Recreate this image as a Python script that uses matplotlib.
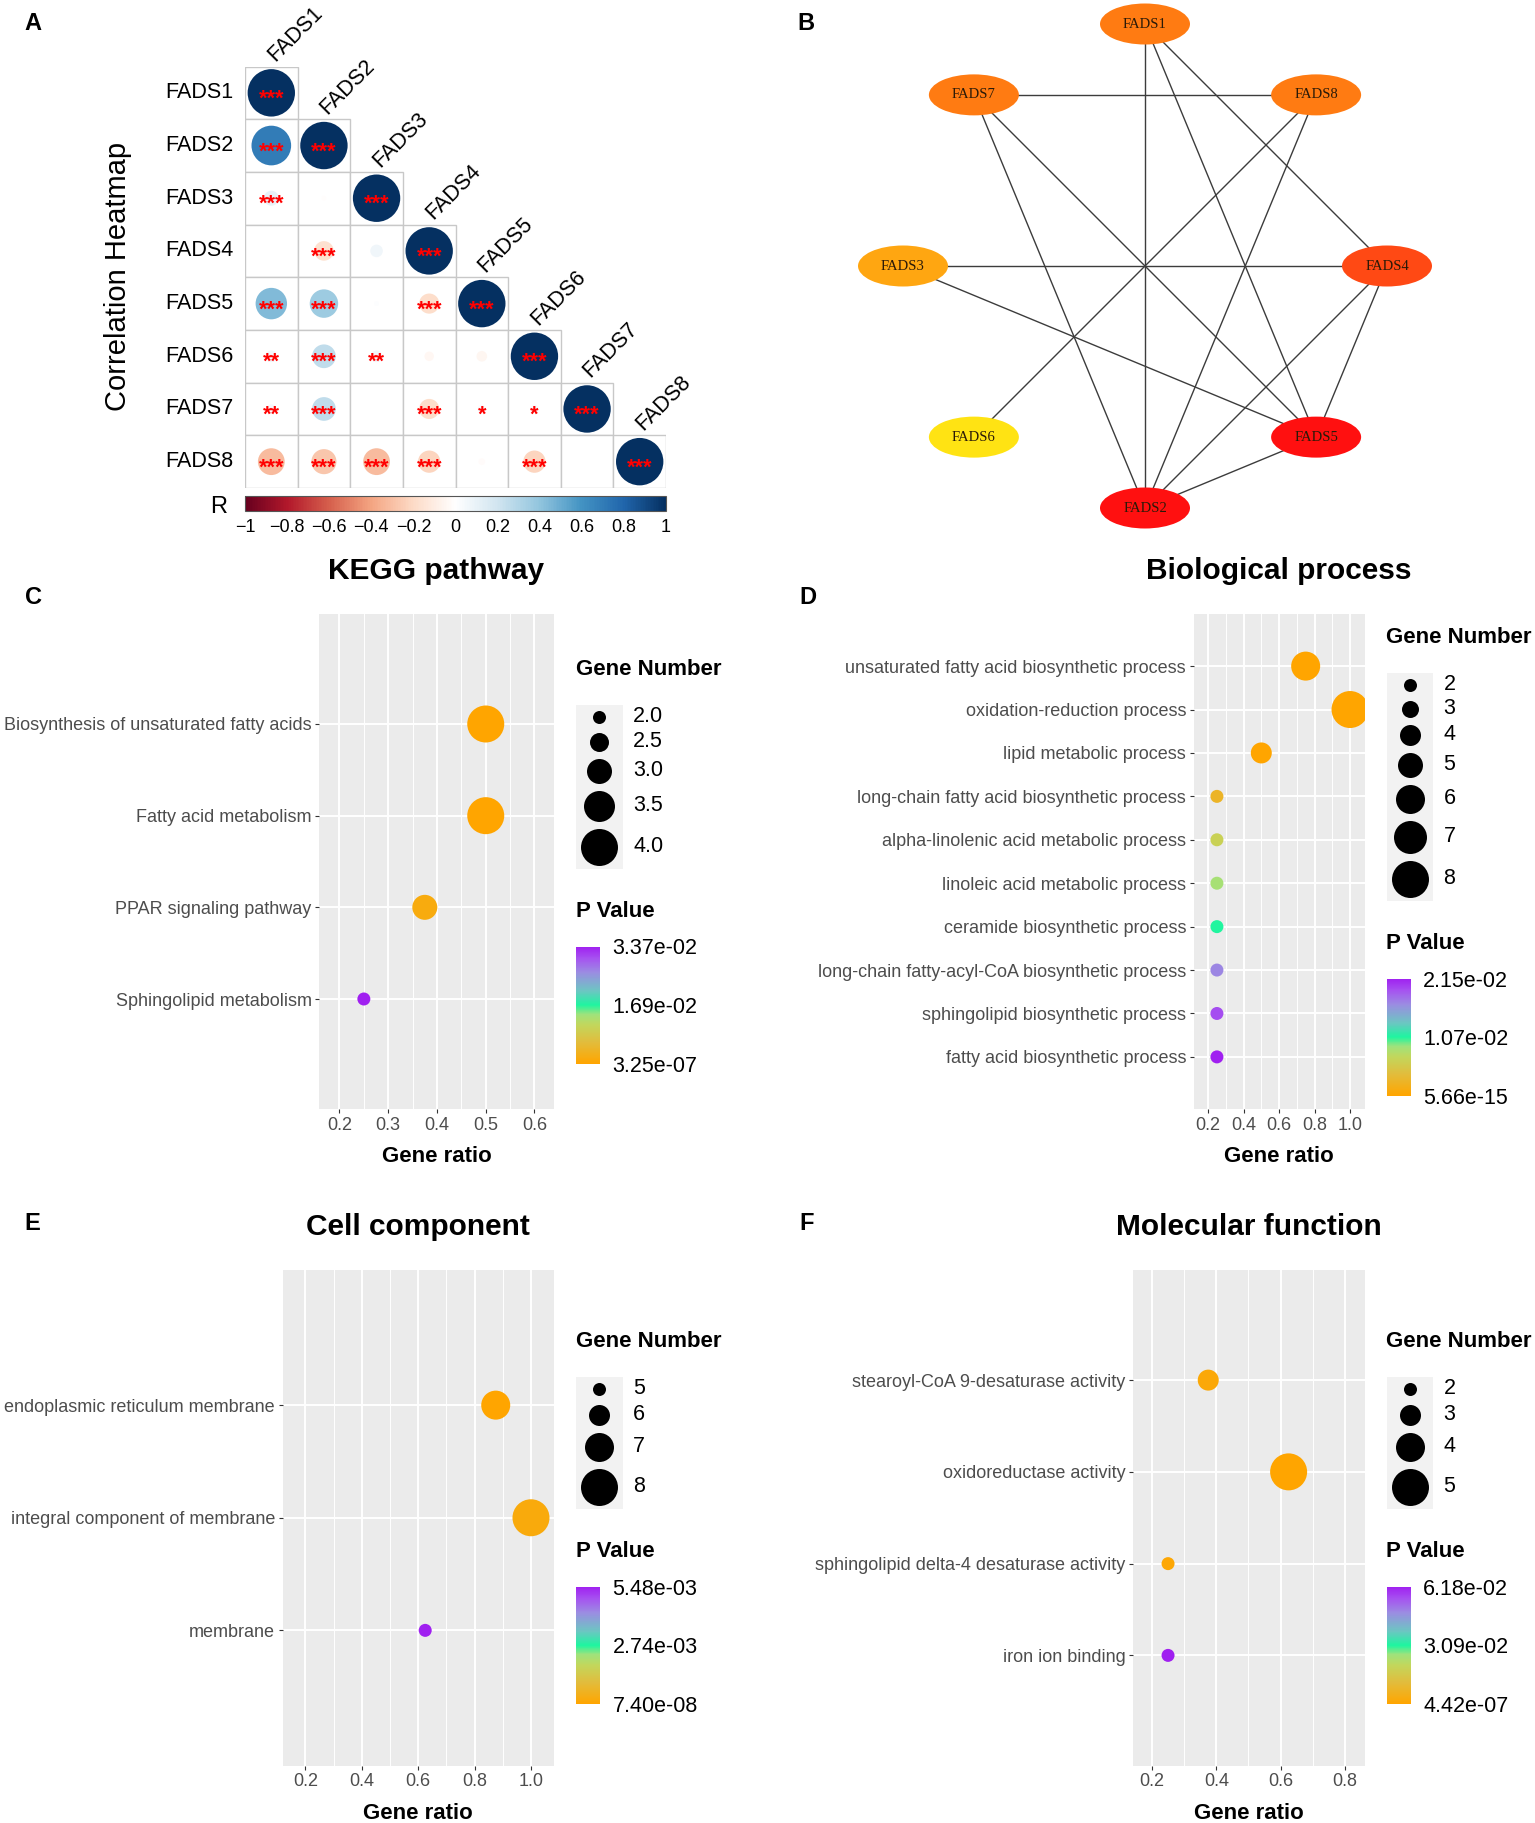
import numpy as np
import matplotlib
matplotlib.use('Agg')
import matplotlib.pyplot as plt
from matplotlib.patches import Circle, Ellipse, Rectangle
from matplotlib.colors import LinearSegmentedColormap, Normalize
from matplotlib.cm import ScalarMappable

plt.rcParams['font.family'] = ['Liberation Sans', 'DejaVu Sans']

W, H = 1535, 1823
DPI = 100

# ---------------- data ----------------
genes = ['FADS1', 'FADS2', 'FADS3', 'FADS4', 'FADS5', 'FADS6', 'FADS7', 'FADS8']
corr_rows = [
    [1.0],
    [0.70, 1.0],
    [0.10, -0.01, 1.0],
    [0.00, -0.17, 0.07, 1.0],
    [0.44, 0.36, 0.01, -0.18, 1.0],
    [0.06, 0.25, 0.06, -0.04, -0.05, 1.0],
    [0.04, 0.25, 0.00, -0.18, 0.03, 0.03, 1.0],
    [-0.32, -0.28, -0.32, -0.22, -0.02, -0.22, 0.00, 1.0],
]
sig_rows = [
    ['***'],
    ['***', '***'],
    ['***', '', '***'],
    ['', '***', '', '***'],
    ['***', '***', '', '***', '***'],
    ['**', '***', '**', '', '', '***'],
    ['**', '***', '', '***', '*', '*', '***'],
    ['***', '***', '***', '***', '', '***', '', '***'],
]
corr_ticks = [-1, -0.8, -0.6, -0.4, -0.2, 0, 0.2, 0.4, 0.6, 0.8, 1]

net_order = ['FADS1', 'FADS8', 'FADS4', 'FADS5', 'FADS2', 'FADS6', 'FADS3', 'FADS7']
net_edges = [('FADS1', 'FADS2'), ('FADS1', 'FADS5'), ('FADS1', 'FADS4'),
             ('FADS7', 'FADS8'), ('FADS7', 'FADS2'), ('FADS7', 'FADS5'),
             ('FADS8', 'FADS6'), ('FADS8', 'FADS2'), ('FADS3', 'FADS4'),
             ('FADS3', 'FADS5'), ('FADS4', 'FADS2'), ('FADS4', 'FADS5'),
             ('FADS5', 'FADS2')]

kegg_terms = ['Biosynthesis of unsaturated fatty acids', 'Fatty acid metabolism',
              'PPAR signaling pathway', 'Sphingolipid metabolism']
kegg_ratio = [0.5, 0.5, 0.375, 0.25]
kegg_count = [4, 4, 3, 2]
kegg_p = [3.25e-07, 1.2e-06, 1.5e-03, 3.37e-02]
kegg_size_breaks = [2.0, 2.5, 3.0, 3.5, 4.0]
kegg_xticks = [0.2, 0.3, 0.4, 0.5, 0.6]

bp_terms = ['unsaturated fatty acid biosynthetic process', 'oxidation-reduction process',
            'lipid metabolic process', 'long-chain fatty acid biosynthetic process',
            'alpha-linolenic acid metabolic process', 'linoleic acid metabolic process',
            'ceramide biosynthetic process', 'long-chain fatty-acyl-CoA biosynthetic process',
            'sphingolipid biosynthetic process', 'fatty acid biosynthetic process']
bp_ratio = [0.75, 1.0, 0.5, 0.25, 0.25, 0.25, 0.25, 0.25, 0.25, 0.25]
bp_count = [6, 8, 4, 2, 2, 2, 2, 2, 2, 2]
bp_p = [5.66e-15, 2.0e-12, 1.0e-09, 2.6e-03, 6.4e-03, 8.6e-03, 1.07e-02, 1.70e-02, 1.95e-02, 2.148e-02]
bp_size_breaks = [2, 3, 4, 5, 6, 7, 8]
bp_xticks = [0.2, 0.4, 0.6, 0.8, 1.0]

cc_terms = ['endoplasmic reticulum membrane', 'integral component of membrane', 'membrane']
cc_ratio = [0.875, 1.0, 0.625]
cc_count = [7, 8, 5]
cc_p = [7.40e-08, 2.0e-04, 5.48e-03]
cc_size_breaks = [5, 6, 7, 8]
cc_xticks = [0.2, 0.4, 0.6, 0.8, 1.0]

mf_terms = ['stearoyl-CoA 9-desaturase activity', 'oxidoreductase activity',
            'sphingolipid delta-4 desaturase activity', 'iron ion binding']
mf_ratio = [0.375, 0.625, 0.25, 0.25]
mf_count = [3, 5, 2, 2]
mf_p = [1.5e-03, 4.42e-07, 8.0e-04, 6.18e-02]
mf_size_breaks = [2, 3, 4, 5]
mf_xticks = [0.2, 0.4, 0.6, 0.8]

# ---------------- helpers ----------------
fig = plt.figure(figsize=(W / DPI, H / DPI), dpi=DPI)
fig.patch.set_facecolor('white')


def px_axes(x0, y0, x1, y1, **kw):
    return fig.add_axes([x0 / W, 1 - y1 / H, (x1 - x0) / W, (y1 - y0) / H], **kw)


ov = px_axes(0, 0, W, H)
ov.set_xlim(0, W)
ov.set_ylim(H, 0)
ov.axis('off')

rdbu = LinearSegmentedColormap.from_list('rdbu', [
    '#67001F', '#B2182B', '#D6604D', '#F4A582', '#FDDBC7', '#FFFFFF',
    '#D1E5F0', '#92C5DE', '#4393C3', '#2166AC', '#053061'])
pcmap = LinearSegmentedColormap.from_list('pv', [
    (0.0, '#FFA500'), (0.18, '#E2BC3C'), (0.33, '#C2D75C'), (0.42, '#9FE27C'),
    (0.5, '#1EF5A0'), (0.62, '#6CC6C2'), (0.78, '#9B8CE2'), (0.9, '#A652F0'),
    (1.0, '#A020F0')])

# panel letters
for letter, (lx, ly) in zip('ABCDEF', [(33, 23), (806, 23), (33, 597), (808, 597),
                                       (32, 1224), (807, 1224)]):
    ov.text(lx, ly, letter, fontsize=17, fontweight='bold', ha='center', va='center')

# ---------------- Panel A: correlation heatmap ----------------
axA = px_axes(245, 66.5, 666, 488)
axA.set_xlim(0, 8)
axA.set_ylim(8, 0)
axA.axis('off')
for i, (row, srow) in enumerate(zip(corr_rows, sig_rows)):
    for j, (r, s) in enumerate(zip(row, srow)):
        axA.add_patch(Rectangle((j, i), 1, 1, facecolor='white', edgecolor='#C8C8C8',
                                lw=1.0, zorder=1))
        axA.add_patch(Circle((j + 0.5, i + 0.5), 0.45 * np.sqrt(abs(r)),
                             facecolor=rdbu((r + 1) / 2), edgecolor='none', zorder=2))
        if s:
            axA.text(j + 0.5, i + 0.5 + 0.12, s, color='#FF0000', fontsize=15.5,
                     fontweight='bold', ha='center', va='center', zorder=3)
for i, g in enumerate(genes):
    axA.text(-0.22, i + 0.5, g, fontsize=15.5, ha='right', va='center')
    axA.text(i + 0.57, i - 0.08, g, fontsize=15.5, rotation=45, ha='left',
             va='baseline', rotation_mode='anchor', clip_on=False)
ov.text(118, 276, 'Correlation Heatmap', fontsize=21, rotation=90, ha='center', va='center')

caxA = px_axes(245, 496, 666, 510.6)
smA = ScalarMappable(norm=Normalize(-1, 1), cmap=rdbu)
cbA = fig.colorbar(smA, cax=caxA, orientation='horizontal', ticks=corr_ticks)
cbA.ax.set_xticklabels([('%g' % t).replace('-', '\u2212') for t in corr_ticks])
cbA.ax.tick_params(length=0, pad=6, labelsize=13)
cbA.outline.set_linewidth(0.8)
cbA.outline.set_edgecolor('#555555')
ov.text(219, 507, 'R', fontsize=17, ha='center', va='center')

# ---------------- Panel B: network ----------------
R_px = 242.0
axB = px_axes(1145 - 300, 266 - 266, 1145 + 300, 266 + 266)
axB.set_xlim(-300 / R_px, 300 / R_px)
axB.set_ylim(-266 / R_px, 266 / R_px)
axB.axis('off')
angles = np.pi / 2 - np.arange(len(net_order)) * 2 * np.pi / len(net_order)
pos = {g: (np.cos(a), np.sin(a)) for g, a in zip(net_order, angles)}
degree = {g: 0 for g in net_order}
for a, b in net_edges:
    degree[a] += 1
    degree[b] += 1
    axB.plot([pos[a][0], pos[b][0]], [pos[a][1], pos[b][1]], color='#3C3C3C',
             lw=1.0, zorder=1)
deg_cmap = LinearSegmentedColormap.from_list('deg', ['#FFE313', '#FFA611', '#FF7B12',
                                                     '#FF4A14', '#FF1010'])
dmin, dmax = min(degree.values()), max(degree.values())
for g in net_order:
    x, y = pos[g]
    col = deg_cmap((degree[g] - dmin) / (dmax - dmin))
    axB.add_patch(Ellipse((x, y), 90 / R_px, 41 / R_px, facecolor=col,
                          edgecolor='none', zorder=2))
    axB.text(x, y, g, fontsize=10.5, family=['Liberation Serif', 'DejaVu Serif'],
             color='#2A1A08', ha='center', va='center', zorder=3)


# ---------------- dot plot panels ----------------
def size_px(v, lo, hi):
    return 13 + (v - lo) / (hi - lo) * 24


def dot_panel(box, terms, ratio, count, pvals, breaks, xticks, xlim, title):
    x0, y0, x1, y1 = box
    ax = px_axes(x0, y0, x1, y1)
    n = len(terms)
    ypos = np.arange(n)
    ax.set_facecolor('#EBEBEB')
    ax.set_xlim(*xlim)
    ax.set_ylim(n - 1 + 1.2, -1.2)
    step = xticks[1] - xticks[0]
    minors = [t + step / 2 for t in [xticks[0] - step] + list(xticks)]
    minors = [m for m in minors if xlim[0] < m < xlim[1]]
    ax.set_xticks(xticks)
    ax.set_xticklabels(['%.1f' % t for t in xticks])
    ax.set_xticks(minors, minor=True)
    ax.set_yticks(ypos)
    ax.set_yticklabels(terms)
    ax.grid(which='major', color='white', lw=1.4)
    ax.grid(which='minor', axis='x', color='white', lw=0.7)
    ax.set_axisbelow(True)
    for s in ax.spines.values():
        s.set_visible(False)
    ax.tick_params(which='major', length=3, width=0.8, color='#333333', pad=2.4,
                   labelsize=13, labelcolor='#4D4D4D')
    ax.tick_params(which='minor', length=0)
    lo, hi = min(breaks), max(breaks)
    pmin, pmax = min(pvals), max(pvals)
    norm = Normalize(pmin, pmax)
    d = np.array([size_px(c, lo, hi) for c in count])
    ax.scatter(ratio, ypos, s=(d * 72 / DPI) ** 2, c=pvals, cmap=pcmap, norm=norm,
               linewidths=0, zorder=3)
    cx = (x0 + x1) / 2
    ov.text(cx, y0 - 43, title, fontsize=21.5, fontweight='bold', ha='center', va='center')
    ov.text(cx, y1 + 48, 'Gene ratio', fontsize=16, fontweight='bold', ha='center',
            va='center')

    # legend block
    dk = [size_px(b, lo, hi) for b in breaks]
    hk = [max(v + 7, 24) for v in dk]
    block_h = 240 + sum(hk)
    top = (y0 + y1) / 2 - block_h / 2
    lx = x1 + 22
    ov.text(lx, top + 10, 'Gene Number', fontsize=16, fontweight='bold', ha='left',
            va='center')
    btop = top + 45
    bw = 46.5
    ov.add_patch(Rectangle((lx, btop), bw, sum(hk), facecolor='#F2F2F2', edgecolor='none'))
    fmt = '%.1f' if any(float(b) != int(b) for b in breaks) else '%d'
    cy = btop
    for b, dv, hv in zip(breaks, dk, hk):
        c = cy + hv / 2
        ov.scatter([lx + bw / 2], [c], s=(dv * 72 / DPI) ** 2, color='black', linewidths=0)
        ov.text(lx + bw + 10.5, c, fmt % b, fontsize=15.5, ha='left', va='center')
        cy += hv
    ov.text(lx, cy + 43, 'P Value', fontsize=16, fontweight='bold', ha='left', va='center')
    ctop = cy + 43 + 35
    cax = px_axes(lx, ctop, lx + 24, ctop + 117)
    sm = ScalarMappable(norm=norm, cmap=pcmap)
    tks = [pmin, (pmin + pmax) / 2, pmax]
    cb = fig.colorbar(sm, cax=cax, ticks=tks)
    cb.ax.set_yticklabels(['%.2e' % t for t in tks])
    cb.outline.set_visible(False)
    cb.ax.tick_params(length=0, pad=9, labelsize=15.5)
    return ax


dot_panel((319, 614, 554, 1109), kegg_terms, kegg_ratio, kegg_count, kegg_p,
          kegg_size_breaks, kegg_xticks, (0.158, 0.640), 'KEGG pathway')
dot_panel((1193.5, 614, 1364.5, 1109), bp_terms, bp_ratio, bp_count, bp_p,
          bp_size_breaks, bp_xticks, (0.118, 1.0815), 'Biological process')
dot_panel((282.5, 1270, 554, 1765.5), cc_terms, cc_ratio, cc_count, cc_p,
          cc_size_breaks, cc_xticks, (0.119, 1.0816), 'Cell component')
dot_panel((1133, 1270, 1364.5, 1765.5), mf_terms, mf_ratio, mf_count, mf_p,
          mf_size_breaks, mf_xticks, (0.141, 0.861), 'Molecular function')

fig.savefig('out.png', dpi=DPI)
